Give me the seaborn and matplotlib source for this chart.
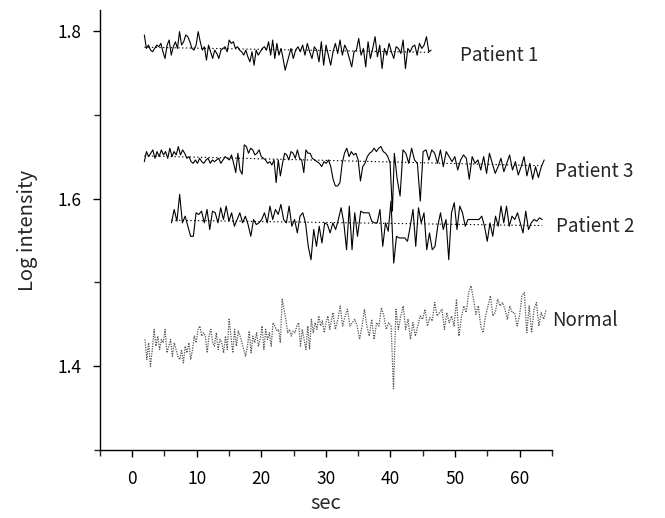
import numpy as np
import pandas as pd
import matplotlib
matplotlib.use("Agg")
import matplotlib.pyplot as plt
import seaborn as sns
from matplotlib.ticker import MultipleLocator

# Log intensity readings (x1000). Each series is read in chunks,
# every chunk is evenly spaced over its own time span (sec).
p1_a = [1795, 1779, 1783, 1777, 1775, 1779, 1783, 1781, 1785, 1775,
        1767, 1783, 1789, 1771, 1781, 1787, 1779, 1799, 1783, 1787,
        1795, 1793, 1787, 1779, 1777, 1783, 1799, 1787, 1777, 1781,
        1765, 1783, 1775, 1767, 1777, 1773, 1767, 1777, 1779, 1781,
        1775, 1789, 1785, 1787, 1779, 1781, 1777, 1775, 1771, 1777,
        1769, 1763, 1775, 1759, 1777, 1771, 1775, 1779, 1781, 1777,
        1787, 1771, 1789, 1767, 1785, 1771, 1779, 1767, 1753]
p1_b = [1779, 1767, 1777, 1781, 1775, 1783, 1771, 1785, 1775, 1767,
        1781, 1777, 1763, 1787, 1759, 1783, 1771, 1759, 1775, 1785,
        1773, 1789, 1771, 1783, 1777, 1767, 1757, 1775, 1777, 1791,
        1771, 1779, 1757, 1787, 1767, 1779, 1793, 1769, 1783, 1755,
        1779, 1771, 1785, 1775, 1767, 1781, 1779, 1773, 1789, 1755,
        1779, 1775, 1781, 1783, 1771, 1785, 1779, 1783, 1793, 1775, 1777]
p1_spans = [(1.9, 23.7), (24.6, 46.3)]

p3_a = [1644, 1656, 1650, 1654, 1658, 1648, 1656, 1650, 1658, 1652,
        1656, 1648, 1660, 1650, 1656, 1652, 1662, 1652, 1658, 1654,
        1648, 1650, 1644, 1642, 1646, 1642, 1648, 1644, 1642, 1646,
        1648, 1642, 1646, 1644, 1646, 1648, 1642, 1646, 1650, 1648,
        1646, 1652, 1642, 1631, 1654, 1634, 1629, 1664, 1662, 1654,
        1660, 1658, 1652, 1654, 1658, 1650, 1648, 1646, 1642, 1644,
        1640, 1646, 1619, 1646, 1627, 1642, 1654, 1652, 1646, 1656,
        1654, 1648, 1658, 1648, 1646, 1631, 1658, 1654, 1654, 1648]
p3_b = [1642, 1638, 1644, 1642, 1646, 1638, 1623, 1615, 1615, 1619,
        1642, 1654, 1660, 1650, 1656, 1652, 1654, 1646, 1621, 1638,
        1642, 1650, 1654, 1656, 1660, 1656, 1660, 1662, 1656, 1654,
        1650, 1642, 1585]
p3_c = [1654, 1623, 1603, 1658, 1654, 1642, 1660, 1646, 1642, 1597,
        1656, 1658, 1646, 1658, 1654, 1642, 1658, 1638, 1656, 1650,
        1644, 1650, 1634, 1646, 1652, 1648, 1623, 1650, 1642, 1646,
        1634, 1650, 1630, 1654, 1642, 1630, 1638, 1648, 1632, 1642,
        1652, 1634, 1644, 1628, 1638, 1650, 1627, 1642, 1623, 1638,
        1625, 1638, 1646]
p3_spans = [(1.9, 27.9), (29.0, 40.3), (40.6, 63.8)]

p2_a = [1571, 1587, 1573, 1605, 1571, 1579, 1567, 1555, 1555, 1583,
        1581, 1585, 1571, 1587, 1563, 1585, 1583, 1571, 1589, 1575,
        1591, 1573, 1583, 1567, 1575, 1583, 1571, 1579, 1569, 1555,
        1575, 1569, 1571, 1575, 1583, 1571, 1591, 1575, 1587, 1581,
        1593, 1575, 1571, 1591, 1567, 1575, 1559, 1579, 1583, 1571,
        1543, 1527, 1563, 1543, 1567, 1547, 1571, 1569, 1559, 1571,
        1563, 1575, 1589, 1571, 1539, 1591, 1539, 1583, 1555]
p2_b = [1585, 1583, 1583, 1583, 1573, 1571, 1571, 1587, 1543, 1571,
        1561, 1597, 1523, 1555, 1553, 1553, 1553, 1549, 1567, 1587,
        1543, 1589, 1571, 1583, 1539, 1559, 1539, 1543, 1567, 1583,
        1563, 1575, 1527, 1583, 1595, 1563, 1591, 1583, 1567, 1575,
        1575, 1575, 1575, 1575, 1579, 1567, 1549, 1571, 1555, 1579,
        1567, 1591, 1571, 1591, 1567, 1579, 1575, 1583, 1571, 1559,
        1585, 1563, 1571, 1575, 1573, 1577, 1575]
p2_spans = [(6.1, 34.9), (35.4, 63.5)]

normal_a = [1432, 1408, 1428, 1400, 1420, 1444, 1424, 1436, 1420, 1432,
            1428, 1444, 1416, 1424, 1432, 1412, 1428, 1420, 1412, 1408,
            1420, 1404, 1424, 1416, 1428, 1408, 1420, 1436, 1428, 1444,
            1448, 1436, 1440, 1436, 1416, 1436, 1444, 1428, 1424, 1440,
            1420, 1432, 1428, 1416, 1436, 1420, 1456, 1436, 1416, 1444,
            1424, 1442, 1436, 1428, 1420, 1412, 1424, 1442, 1416, 1436,
            1428, 1440, 1424, 1432, 1448, 1420, 1444, 1432, 1440, 1424,
            1452, 1448, 1442, 1444, 1428, 1480, 1468, 1456, 1440, 1444,
            1436, 1442, 1440, 1448, 1452, 1424, 1444, 1432, 1420, 1448,
            1420, 1456, 1440, 1452, 1444, 1460, 1448, 1454, 1440, 1452,
            1460, 1444]
normal_b = [1464, 1444, 1456, 1472, 1448, 1460, 1468, 1448, 1452, 1456,
            1448, 1432, 1448, 1468, 1448, 1436, 1456, 1432, 1452, 1448,
            1470, 1460, 1444, 1452, 1448, 1373, 1468, 1444, 1460, 1472,
            1444, 1456, 1432, 1452, 1436, 1448, 1460, 1456, 1468, 1448,
            1458, 1454, 1476, 1460, 1464, 1468, 1444, 1464, 1452, 1460,
            1448, 1480, 1436, 1458, 1472, 1464, 1488, 1496, 1480, 1462,
            1472, 1448, 1440, 1460, 1472, 1484, 1460, 1464, 1480, 1472,
            1476, 1468, 1456, 1472, 1464, 1464, 1448, 1460, 1484, 1488,
            1440, 1472, 1440, 1468, 1476, 1448, 1464, 1456, 1468]
normal_spans = [(2.0, 30.6), (31.1, 64.1)]

labels = ["Patient 1", "Patient 3", "Patient 2", "Normal"]


def build(chunks, spans):
    t = np.concatenate([np.linspace(a, b, len(c)) for c, (a, b) in zip(chunks, spans)])
    v = np.concatenate([np.asarray(c, float) for c in chunks]) / 1000.0
    return pd.DataFrame({"sec": t, "log_int": v})


df_p1 = build([p1_a, p1_b], p1_spans)
df_p3 = build([p3_a, p3_b, p3_c], p3_spans)
df_p2 = build([p2_a, p2_b], p2_spans)
df_n = build([normal_a, normal_b], normal_spans)

sns.set_theme(style="ticks")
plt.rcParams['font.family'] = ['Noto Sans CJK JP', 'DejaVu Sans']

fig = plt.figure(figsize=(6.65, 5.18), dpi=100)
ax = fig.add_axes([0.150, 0.131, 0.680, 0.850])

for df in [df_p1, df_p3, df_p2]:
    sns.lineplot(data=df, x="sec", y="log_int", ax=ax, color="black",
                 linewidth=0.8, estimator=None, sort=False)
    sns.regplot(data=df, x="sec", y="log_int", ax=ax, scatter=False, ci=None,
                color="black", line_kws={"linestyle": (0, (1.2, 2.2)), "linewidth": 0.8})

sns.lineplot(data=df_n, x="sec", y="log_int", ax=ax, color="#555555",
             linewidth=0.9, linestyle=(0, (1, 1)), estimator=None, sort=False)

label_pos = [(50.7, 1.771), (65.4, 1.632), (65.7, 1.567), (65.1, 1.455)]
for txt, (lx, ly) in zip(labels, label_pos):
    ax.text(lx, ly, txt, fontsize=13.5, va="center", ha="left", clip_on=False)

ax.set_xlim(-5, 65)
ax.set_ylim(1.3, 1.825)
ax.xaxis.set_minor_locator(MultipleLocator(5))
ax.yaxis.set_minor_locator(MultipleLocator(0.1))
ax.set_xticks([0, 10, 20, 30, 40, 50, 60])
ax.set_yticks([1.4, 1.6, 1.8])
ax.tick_params(axis="x", which="major", pad=9)
ax.tick_params(axis="y", which="major", pad=8)
ax.tick_params(which="major", direction="out", length=5, width=1, labelsize=12.5, colors="black")
ax.tick_params(which="minor", direction="out", length=4, width=1)
ax.set_xlabel("sec", fontsize=14.5, labelpad=4)
ax.set_ylabel("Log intensity", fontsize=14.5, labelpad=14)
for s in ["top", "right"]:
    ax.spines[s].set_visible(False)
for s in ["left", "bottom"]:
    ax.spines[s].set_color("black")
    ax.spines[s].set_linewidth(1)

fig.savefig("out.png", dpi=100)
